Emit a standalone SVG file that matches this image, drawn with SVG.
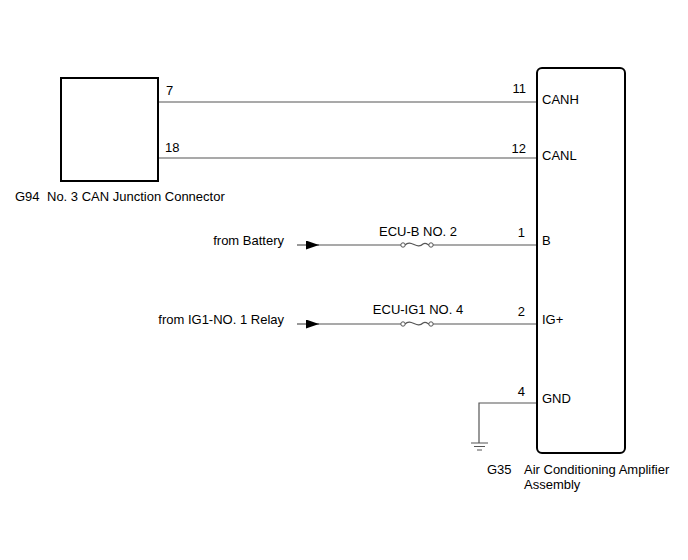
<svg xmlns="http://www.w3.org/2000/svg" width="688" height="560" viewBox="0 0 688 560">
<style>
text{font-family:"Liberation Sans",Arial,sans-serif;font-size:13px;fill:#000}
.w{stroke:#555;stroke-width:1.2;fill:none}
.box{fill:#fff;stroke:#000;stroke-width:2}
.fuse{fill:#fff;stroke:#555;stroke-width:1}
</style>
<defs>
<marker id="arr" viewBox="0 0 13 9" refX="13" refY="4.5" markerWidth="13" markerHeight="9" markerUnits="userSpaceOnUse" orient="auto"><path d="M0,0L13,4.5L0,9z" fill="#000"/></marker>
</defs>
<rect width="688" height="560" fill="#fff"/>
<g id="connectors">
<path class="w" d="M158,102H537"/>
<path class="w" d="M158,158H537"/>
<path class="w" d="M297,245H319" marker-end="url(#arr)"/>
<path class="w" d="M318,245H403M431,245H537"/>
<path class="w" stroke-width="1.5" d="M405,245C411,239 417,250 423,244 426,242 428,245 429,245"/>
<circle class="fuse" cx="403" cy="245" r="2.2"/>
<circle class="fuse" cx="431" cy="245" r="2.2"/>
<path class="w" d="M297,324H319" marker-end="url(#arr)"/>
<path class="w" d="M318,324H403M431,324H537"/>
<path class="w" stroke-width="1.5" d="M405,324C411,318 417,329 423,323 426,321 428,324 429,324"/>
<circle class="fuse" cx="403" cy="324" r="2.2"/>
<circle class="fuse" cx="431" cy="324" r="2.2"/>
<path class="w" d="M537,403H479V443"/>
<path stroke="#555" stroke-width="1.2" d="M471,443H488M474,446.5H485M477,450H482"/>
</g>
<g id="G94">
<rect class="box" x="61" y="78" width="97" height="103"/>
<text x="166" y="95">7</text>
<text x="165" y="152">18</text>
<text x="15" y="201">G94</text>
<text x="47" y="201">No. 3 CAN Junction Connector</text>
</g>
<g id="G35">
<rect class="box" x="537" y="68" width="88" height="385" rx="5"/>
<text x="526" y="93" text-anchor="end">11</text>
<text x="526" y="153" text-anchor="end">12</text>
<text x="525" y="237" text-anchor="end">1</text>
<text x="525" y="316" text-anchor="end">2</text>
<text x="525" y="396" text-anchor="end">4</text>
<text x="542" y="104">CANH</text>
<text x="542" y="160">CANL</text>
<text x="542" y="245">B</text>
<text x="542" y="324">IG+</text>
<text x="542" y="403">GND</text>
<text x="487" y="474">G35</text>
<text x="524" y="474">Air Conditioning Amplifier</text>
<text x="524" y="489">Assembly</text>
</g>
<g id="battery">
<text x="284" y="245" text-anchor="end">from Battery</text>
<text x="418" y="236" text-anchor="middle">ECU-B NO. 2</text>
</g>
<g id="ig1">
<text x="284" y="324" text-anchor="end">from IG1-NO. 1 Relay</text>
<text x="418" y="314" text-anchor="middle">ECU-IG1 NO. 4</text>
</g>
</svg>
